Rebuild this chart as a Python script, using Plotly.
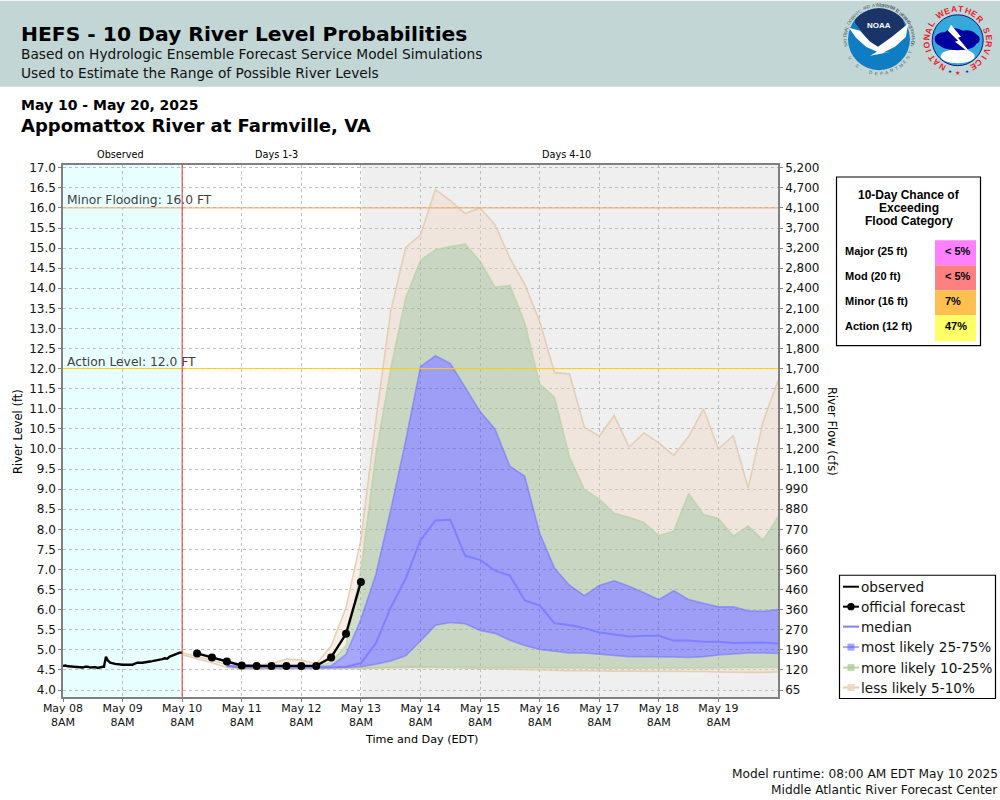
import math
import pandas as pd
import plotly.graph_objects as go

# ---------- data ----------
y_ticks = [4.0 + 0.5 * k for k in range(27)]
flow_labels = ["65", "120", "190", "270", "360", "460", "560", "660", "770", "880", "990",
               "1,100", "1,200", "1,300", "1,500", "1,600", "1,700", "1,800", "2,000", "2,100",
               "2,400", "2,800", "3,200", "3,700", "4,100", "4,700", "5,200"]
x_tick_times = ["2025-05-%02d 08:00" % d for d in range(8, 20)]
x_tick_labels = ["May %02d<br>8AM" % d for d in range(8, 20)]

observed_hours = [0, 1, 2, 4, 6, 8, 9, 10, 11, 13, 14, 15, 16, 16.5, 17.3, 18, 19, 21, 24, 27, 28,
                  29, 30, 32, 34, 35, 36, 38, 40, 41, 42, 43, 44, 46, 47, 48]
observed_level = [4.6, 4.61, 4.59, 4.58, 4.58, 4.56, 4.58, 4.58, 4.56, 4.57, 4.55, 4.57, 4.58, 4.58, 4.83,
                  4.74, 4.68, 4.65, 4.63, 4.63, 4.63, 4.66, 4.68, 4.68, 4.69, 4.71, 4.72, 4.74, 4.77,
                  4.79, 4.78, 4.83, 4.86, 4.92, 4.93, 4.93]

official_step = [1, 2, 3, 4, 5, 6, 7, 8, 9, 10, 11, 12]
official_level = [4.91, 4.81, 4.71, 4.61, 4.6, 4.6, 4.6, 4.6, 4.6, 4.81, 5.4, 6.69]

tan_hi = [4.93, 4.84, 4.74, 4.63, 4.6, 4.62, 4.66, 4.77, 4.75, 4.65, 5.1, 6.05, 7.75, 10.7, 13.43, 15.01,
          15.33, 16.46, 16.18, 15.86, 16.0, 15.58, 14.75, 14.1, 13.18, 11.9, 11.87, 10.54, 10.32, 10.83,
          10.05, 10.4, 10.15, 9.84, 10.31, 11.0, 10.0, 10.33, 9.03, 10.68, 11.7]
green_hi = [4.91, 4.82, 4.72, 4.62, 4.58, 4.58, 4.58, 4.58, 4.58, 4.58, 4.7, 5.1, 7.0, 9.85, 12.0, 13.76,
            14.7, 14.96, 15.04, 15.1, 14.67, 14.03, 14.07, 13.14, 11.62, 11.28, 9.8, 8.99, 8.75, 8.4,
            8.3, 8.17, 7.84, 7.96, 8.89, 8.37, 8.27, 7.83, 8.08, 7.73, 8.31]
blue_hi = [4.9, 4.8, 4.7, 4.6, 4.58, 4.58, 4.58, 4.58, 4.58, 4.58, 4.6, 4.89, 5.76, 6.87, 8.48, 10.2,
           12.05, 12.32, 12.13, 11.53, 10.93, 10.5, 9.57, 9.32, 7.9, 7.03, 6.61, 6.35, 6.6, 6.72,
           6.58, 6.42, 6.25, 6.47, 6.25, 6.16, 6.07, 6.07, 5.97, 5.96, 6.0]
median = [4.9, 4.8, 4.7, 4.6, 4.57, 4.57, 4.57, 4.57, 4.56, 4.56, 4.56, 4.58, 4.67, 5.16, 6.05, 6.77,
          7.73, 8.22, 8.24, 7.34, 7.24, 6.97, 6.85, 6.23, 6.1, 5.66, 5.62, 5.54, 5.43, 5.38,
          5.33, 5.35, 5.35, 5.23, 5.23, 5.2, 5.2, 5.17, 5.18, 5.18, 5.16]
blue_lo = [4.9, 4.8, 4.7, 4.6, 4.55, 4.55, 4.55, 4.55, 4.55, 4.55, 4.55, 4.56, 4.58, 4.64, 4.72, 4.85,
           5.22, 5.61, 5.68, 5.65, 5.48, 5.41, 5.24, 5.11, 5.01, 4.96, 4.92, 4.92, 4.89, 4.87,
           4.83, 4.83, 4.83, 4.82, 4.81, 4.83, 4.87, 4.89, 4.92, 4.92, 4.91]
green_lo = [4.9, 4.8, 4.7, 4.58, 4.54, 4.54, 4.54, 4.54, 4.54, 4.54, 4.54, 4.54, 4.55, 4.56, 4.56, 4.57,
            4.58, 4.58, 4.57, 4.57, 4.56, 4.56, 4.56, 4.56, 4.55, 4.55, 4.55, 4.55, 4.54, 4.54,
            4.54, 4.54, 4.54, 4.54, 4.55, 4.55, 4.55, 4.56, 4.56, 4.56, 4.56]
tan_lo = [4.88, 4.78, 4.68, 4.56, 4.52, 4.52, 4.52, 4.52, 4.52, 4.52, 4.52, 4.52, 4.53, 4.54, 4.55, 4.56,
          4.57, 4.56, 4.55, 4.54, 4.53, 4.53, 4.52, 4.51, 4.5, 4.49, 4.48, 4.48, 4.47, 4.47,
          4.47, 4.47, 4.46, 4.46, 4.46, 4.46, 4.45, 4.44, 4.44, 4.44, 4.45]

minor_level, action_level = 16.0, 12.0
chance_rows = ["Major (25 ft)", "Mod (20 ft)", "Minor (16 ft)", "Action (12 ft)"]
chance_values = ["< 5%", "< 5%", "7%", "47%"]
chance_colors = ["#FF80FF", "#FF8080", "#FFC050", "#FFFF66"]
legend_names = ["observed", "official forecast", "median", "most likely 25-75%",
                "more likely 10-25%", "less likely 5-10%"]

# ---------- geometry ----------
W, H = 1000, 800
L, R, T, B = 63.0, 778.0, 164.5, 697.5
FT_PX, Y4_PX = 40.25, 690.5
def px(x): return (x - L) / (R - L)
def py(y): return (B - y) / (B - T)

start = pd.Timestamp("2025-05-08 08:00")
fc_times = pd.date_range("2025-05-10 08:00", periods=len(median), freq="6h")
obs_times = [start + pd.Timedelta(hours=h) for h in observed_hours]
off_times = [fc_times[i] for i in official_step]

DJ = "DejaVu Sans"
LB = "Liberation Sans"
shapes, notes = [], []

def text(x, y, s, size=12, color="#000", bold=False, anchor="left", font=DJ, angle=0, vanchor="middle"):
    notes.append(dict(x=px(x), y=py(y), xref="paper", yref="paper", text=("<b>%s</b>" % s) if bold else s,
                      showarrow=False, xanchor=anchor, yanchor=vanchor, textangle=angle, borderpad=0, borderwidth=0,
                      font=dict(family=font, size=size, color=color)))

def rect(x0, y0, x1, y1, fill=None, line=None, lw=1, layer="above"):
    shapes.append(dict(type="rect", xref="paper", yref="paper", x0=px(x0), x1=px(x1), y0=py(y0), y1=py(y1),
                       fillcolor=fill or "rgba(0,0,0,0)", line=dict(color=line or "rgba(0,0,0,0)", width=lw if line else 0),
                       layer=layer))

def oval(cx, cy, rx, ry, fill, line=None, lw=1):
    shapes.append(dict(type="circle", xref="paper", yref="paper", x0=px(cx - rx), x1=px(cx + rx), y0=py(cy - ry),
                       y1=py(cy + ry), fillcolor=fill, line=dict(color=line or fill, width=lw if line else 0)))

def poly(points, fill):
    d = "M " + " L ".join("%.5f,%.5f" % (px(a), py(b)) for a, b in points) + " Z"
    shapes.append(dict(type="path", xref="paper", yref="paper", path=d, fillcolor=fill, line=dict(width=0)))

def seg(x0, y0, x1, y1, color, lw):
    shapes.append(dict(type="line", xref="paper", yref="paper", x0=px(x0), x1=px(x1), y0=py(y0), y1=py(y1),
                       line=dict(color=color, width=lw)))

# plot background regions
rect(L, T, 182, B, fill="#E8FFFF", layer="below")
rect(361.5, T, R, B, fill="#EFEFEF", layer="below")

# header
rect(0, 0, 1000, 86, fill="#C2D7D5", layer="below")
text(21, 33, "HEFS - 10 Day River Level Probabilities", 20.3, bold=True)
text(21, 53, "Based on Hydrologic Ensemble Forecast Service Model Simulations", 13.76, color="#111")
text(21, 72, "Used to Estimate the Range of Possible River Levels", 13.76, color="#111")
text(21, 104, "May 10 - May 20, 2025", 14, bold=True)
text(21, 125, "Appomattox River at Farmville, VA", 18, bold=True)
text(120, 154, "Observed", 9.7, anchor="center")
text(276, 154, "Days 1-3", 9.7, anchor="center")
text(566, 154, "Days 4-10", 9.7, anchor="center")
text(67, 199.5, "Minor Flooding: 16.0 FT", 12.3, color="#404040")
text(67, 361.5, "Action Level: 12.0 FT", 12.3, color="#404040")
text(998, 775, "Model runtime: 08:00 AM EDT May 10 2025", 12.2, anchor="right", color="#111")
text(998, 791, "Middle Atlantic River Forecast Center", 12.2, anchor="right", color="#111")
text(18, 431, "River Level (ft)", 11.5, anchor="center", angle=-90)
text(832, 431, "River Flow (cfs)", 11.5, anchor="center", angle=90)
text(421, 740, "Time and Day (EDT)", 11.2, anchor="center")

# thresholds and now-line
for lvl, col in ((minor_level, "#EFA860"), (action_level, "#FFD000")):
    shapes.append(dict(type="line", xref="paper", yref="y", x0=0, x1=1, y0=lvl, y1=lvl, line=dict(color=col, width=1)))
shapes.append(dict(type="line", xref="x", yref="paper", x0=fc_times[0], x1=fc_times[0], y0=0, y1=1,
                   line=dict(color="#FF2A2A", width=1)))

# flood-chance table
rect(836.5, 176.5, 980.5, 345.5, fill="#FFFFFF", line="#000000", lw=1.2)
for i, s in enumerate(["10-Day Chance of", "Exceeding", "Flood Category"]):
    text(909, 195 + 13 * i, s, 12, bold=True, anchor="center", font=LB)
for i, (a, v, c) in enumerate(zip(chance_rows, chance_values, chance_colors)):
    top = 240 + 25 * i
    rect(935, top, 976, top + 25 + (1 if i == 3 else 0), fill=c)
    text(845, top + 11, a, 11, bold=True, font=LB)
    text(945, top + 11, v, 11, bold=True, font=LB)

# legend box (compact swatches)
rect(839.5, 575.5, 995.5, 699, fill="#FFFFFF", line="#000000", lw=1.2)
rows = [587, 607, 627, 647.5, 668, 688]
sw = [("#000000", None), ("#000000", "dot"), ("#8080FF", None), ("rgba(110,110,255,.6)", "rgba(90,90,255,.55)"),
      ("rgba(170,205,150,.8)", "rgba(165,200,145,.7)"), ("rgba(225,200,170,.9)", "rgba(235,215,190,.9)")]
for name, yy, (lc, mk) in zip(legend_names, rows, sw):
    seg(843, yy, 859, yy, lc, 2)
    if mk == "dot":
        oval(851, yy, 3.7, 3.7, "#000000")
    elif mk:
        rect(847.5, yy - 3.5, 854.5, yy + 3.5, fill=mk)
    text(861, yy, name, 13.6, color="#111")

# NOAA emblem
cx, cy = 879, 38.5
oval(cx, cy, 31, 31, "#0E7DC4")
arc = [(cx + 31 * math.sin(math.radians(a)), cy - 31 * math.cos(math.radians(a))) for a in range(-50, 55, 10)]
poly(arc + [(905, 26), (890, 38), (878, 47), (866, 37), (855, 22)], "#1B3468")
poly([(849, 27), (860, 30), (870, 41), (878, 46), (892, 36), (908, 23), (906, 36), (895, 46), (883, 52),
      (891, 51), (870, 55), (877, 51), (866, 46), (856, 37)], "#FFFFFF")
text(879, 25, "NOAA", 8, color="#FFFFFF", bold=True, anchor="center", font=LB)
ring1 = "NATIONAL OCEANIC AND ATMOSPHERIC ADMINISTRATION"
for i, ch in enumerate(ring1):
    a = -100 + 200 * i / (len(ring1) - 1)
    text(cx + 34 * math.sin(math.radians(a)), cy - 34 * math.cos(math.radians(a)), ch, 4.5, color="#555a66",
         anchor="center", font=LB, angle=a)
ring2 = "U.S. DEPARTMENT OF COMMERCE"
for i, ch in enumerate(ring2):
    a = 238 - 116 * 2 * i / (len(ring2) - 1)
    text(cx + 34 * math.sin(math.radians(a)), cy - 34 * math.cos(math.radians(a)), ch, 4.5,
         color="#555a66", anchor="center", font=LB, angle=a - 180)

# NWS emblem
nx, ny = 957.7, 39.5
oval(nx, ny, 25.5, 25.5, "#35A8DC", line="#12127A", lw=1)
oval(nx, ny + 16, 17, 7, "#FFFFFF")
for ex, ey, rx, ry in [(-14, -1, 9, 7), (-3, -3, 12, 9), (9, -2, 11, 8), (17, -1, 5, 5), (0, 4, 18, 6)]:
    oval(nx + ex, ny + ey, rx, ry, "#0000A0")
poly([(951, 24), (961, 36), (958, 37), (972, 54), (955, 41), (958, 40), (948, 30)], "#FFFFFF")
ring3 = "NATIONAL WEATHER SERVICE"
for i, ch in enumerate(ring3):
    a = -150 + 300 * i / (len(ring3) - 1)
    text(nx + 31 * math.sin(math.radians(a)), ny - 31 * math.cos(math.radians(a)), ch, 8.5, color="#E8202A",
         bold=True, anchor="center", font=LB, angle=a)
text(949.5, 71, "★", 4.5, color="#2020A0", anchor="center")
text(958, 72, "★", 6, color="#E8202A", anchor="center")
text(966.5, 71, "★", 4.5, color="#2020A0", anchor="center")

# ---------- traces ----------
fig = go.Figure()
NOLINE = "rgba(0,0,0,0)"

def band(lo, hi, fill, lo_edge, hi_edge, name, first=0):
    t = fc_times[first:]
    fig.add_trace(go.Scatter(x=t, y=lo[first:], mode="lines", line=dict(color=lo_edge, width=1.6), name=name,
                             showlegend=False, hoverinfo="skip"))
    fig.add_trace(go.Scatter(x=t, y=hi[first:], mode="lines", line=dict(color=hi_edge, width=1.6), fill="tonexty",
                             fillcolor=fill, name=name, showlegend=False, hoverinfo="skip"))

TAN, TAN_E = "rgba(239,216,194,.4)", "rgba(225,200,170,.8)"
GRN, GRN_E = "rgba(163,191,149,.5)", "rgba(175,208,155,.6)"
BLU, BLU_E = "rgba(77,77,255,.5)", "rgba(110,110,255,.55)"
band(tan_lo, green_lo, TAN, TAN_E, NOLINE, "less likely 5-10%")
band(green_hi, tan_hi, TAN, NOLINE, TAN_E, "less likely 5-10%")
band(green_lo, blue_lo, GRN, GRN_E, NOLINE, "more likely 10-25%", first=3)
band(blue_hi, green_hi, GRN, NOLINE, GRN_E, "more likely 10-25%", first=3)
band(blue_lo, blue_hi, BLU, BLU_E, BLU_E, "most likely 25-75%", first=3)
fig.add_trace(go.Scatter(x=fc_times[3:], y=median[3:], mode="lines", line=dict(color="#7F7FFF", width=2), name="median",
                         showlegend=False))
fig.add_trace(go.Scatter(x=obs_times, y=observed_level, mode="lines", line=dict(color="#000", width=2.4),
                         name="observed", showlegend=False))
fig.add_trace(go.Scatter(x=off_times, y=official_level, mode="lines+markers", line=dict(color="#000", width=2.4),
                         marker=dict(color="#000", size=8), name="official forecast", showlegend=False))
fig.add_trace(go.Scatter(x=[start], y=[None], yaxis="y2", mode="lines", showlegend=False, hoverinfo="skip"))

y_range = [4 + (Y4_PX - B) / FT_PX, 4 + (Y4_PX - T) / FT_PX]
axis_line = dict(showline=True, linecolor="#808080", linewidth=1.5, ticks="outside", ticklen=3, tickcolor="#808080")
fig.update_layout(
    width=W, height=H, autosize=False, margin=dict(l=L, r=W - R, t=T, b=H - B, pad=0),
    paper_bgcolor="#FFFFFF", plot_bgcolor="rgba(0,0,0,0)", showlegend=False, shapes=shapes, annotations=notes,
    font=dict(family=DJ, color="#111"),
    xaxis=dict(type="date", range=[start, pd.Timestamp("2025-05-20 08:00")], tickmode="array",
               tickvals=x_tick_times, ticktext=x_tick_labels, tickfont=dict(size=11), mirror=True,
               showgrid=True, gridcolor="#BDBDBD", griddash="3px,3px", gridwidth=1, zeroline=False,
               tickangle=0, ticklabelstandoff=-3, **axis_line),
    yaxis=dict(range=y_range, tickmode="array", tickvals=y_ticks, ticktext=["%.1f" % v for v in y_ticks],
               tickfont=dict(size=12), showgrid=True, gridcolor="#BDBDBD", griddash="3px,3px", gridwidth=1,
               zeroline=False, **axis_line),
    yaxis2=dict(range=y_range, overlaying="y", side="right", tickmode="array", tickvals=y_ticks,
                ticktext=flow_labels, tickfont=dict(size=12), showgrid=False, zeroline=False, **axis_line),
)
fig.write_html("out.html", config=dict(displayModeBar=False),
               post_script="document.body.style.margin='0';document.body.style.overflow='hidden';")
